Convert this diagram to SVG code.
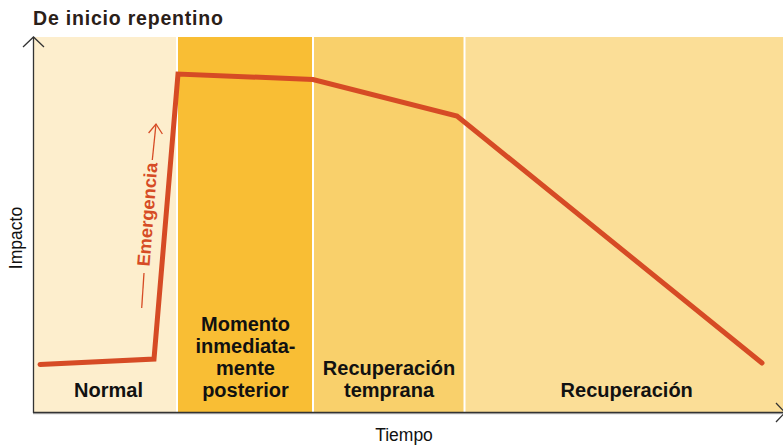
<svg xmlns="http://www.w3.org/2000/svg" width="783" height="445" viewBox="0 0 783 445">
<style>
.lbl{font-family:"Liberation Sans",Arial,sans-serif;font-weight:bold;font-size:20px;fill:#111;text-anchor:middle}
.ax{font-family:"Liberation Sans",Arial,sans-serif;font-size:17.5px;fill:#111;text-anchor:middle}
.axis{stroke:#333;stroke-width:1.3;fill:none}
</style>
<rect width="783" height="445" fill="#ffffff"/>
<text x="33" y="25" font-family="'Liberation Sans',Arial,sans-serif" font-weight="bold" font-size="19.5" letter-spacing="0.8" fill="#2a2018">De inicio repentino</text>
<g id="phase-normal">
<rect x="34" y="37" width="142" height="376" fill="#fdeecd"/>
<text class="lbl" x="108.5" y="397">Normal</text>
</g>
<g id="phase-momento">
<rect x="178" y="37" width="134" height="376" fill="#f9be34"/>
<text class="lbl" x="245.5" y="331">Momento</text>
<text class="lbl" x="245.5" y="353">inmediata-</text>
<text class="lbl" x="245.5" y="375">mente</text>
<text class="lbl" x="245.5" y="397">posterior</text>
</g>
<g id="phase-temprana">
<rect x="314" y="37" width="149.5" height="376" fill="#f9d06b"/>
<text class="lbl" x="389" y="375">Recuperación</text>
<text class="lbl" x="389" y="397">temprana</text>
</g>
<g id="phase-recuperacion">
<rect x="465.5" y="37" width="317.5" height="376" fill="#fbde97"/>
<text class="lbl" x="626.7" y="397">Recuperación</text>
</g>
<g id="connectors">
<line x1="33.5" y1="413" x2="33.5" y2="37" class="axis"/>
<polyline points="23,47 33.5,37 44,47" class="axis"/>
<line x1="33" y1="413.5" x2="783" y2="413.5" stroke="#bbb" stroke-width="1.5"/>
<line x1="33" y1="412.5" x2="783" y2="412.5" class="axis"/>
<polyline points="776,403 785,412.5 776,422" class="axis"/>
<polyline points="40,364.5 154,359 178,74 313,79.5 457,116 762,363" fill="none" stroke="#d64b25" stroke-width="5" stroke-linejoin="miter" stroke-linecap="round"/>
<line x1="141.7" y1="308" x2="144" y2="273" stroke="#d64b25" stroke-width="1.3"/>
<line x1="152.3" y1="160" x2="156" y2="124" stroke="#d64b25" stroke-width="1.3"/>
<polyline points="148.6,133 156,124 162.4,134" fill="none" stroke="#d64b25" stroke-width="1.3"/>
</g>
<text transform="translate(153.5,215) rotate(-85.6)" x="0" y="0" font-family="'Liberation Sans',Arial,sans-serif" font-weight="bold" font-size="18" textLength="104" lengthAdjust="spacingAndGlyphs" fill="#d64b25" text-anchor="middle">Emergencia</text>
<text class="ax" transform="translate(22,238) rotate(-90)" x="0" y="0">Impacto</text>
<text class="ax" x="404" y="441">Tiempo</text>
</svg>
